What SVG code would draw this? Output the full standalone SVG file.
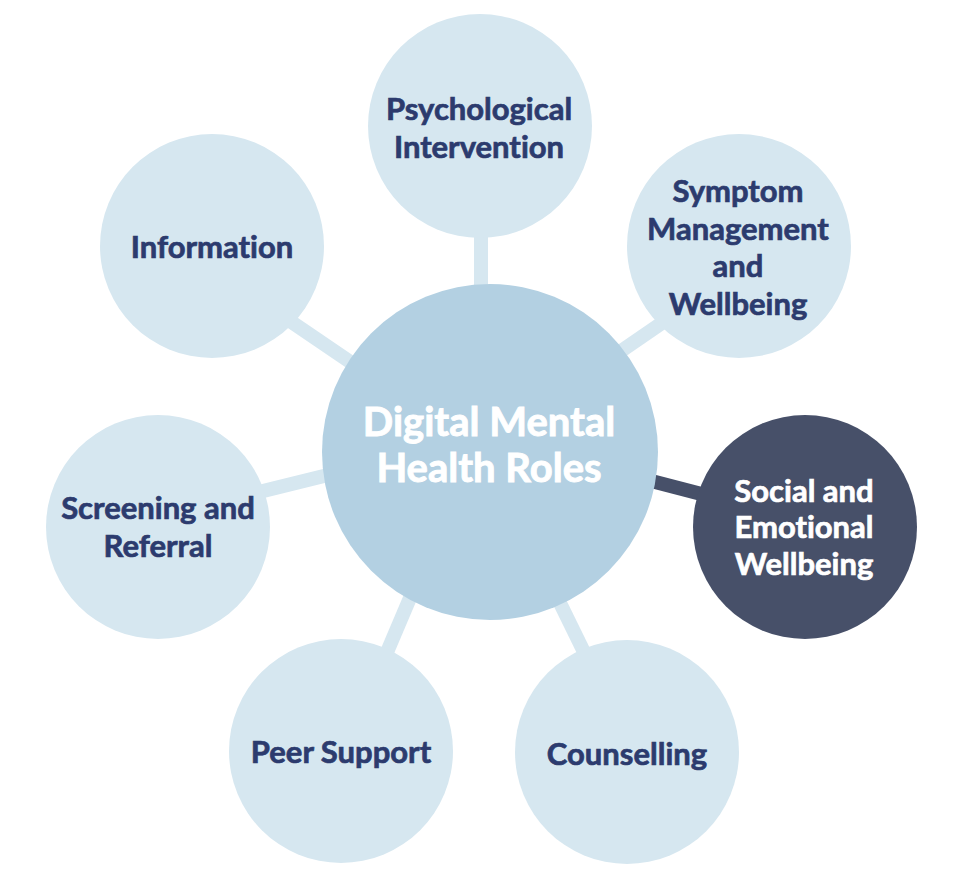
<svg xmlns="http://www.w3.org/2000/svg" width="960" height="876" viewBox="0 0 960 876">
<style>
.bg{fill:#ffffff}
.link{stroke:#d6e7f0;stroke-width:14;stroke-linecap:butt;fill:none}
.link-dark{stroke:#475069;stroke-width:14;fill:none}
.node{fill:#d6e7f0}
.hub{fill:#b3d0e2}
.dark{fill:#475069}
.lbl{font-family:Lato,"Open Sans","Liberation Sans",sans-serif;font-weight:700;font-size:31px;fill:#2c3b6e;stroke:#2c3b6e;stroke-width:0.7px;text-anchor:middle;font-variant-ligatures:none}
.lbl-w{fill:#ffffff;stroke:#ffffff}
.hub-lbl{font-family:Lato,"Open Sans","Liberation Sans",sans-serif;font-weight:700;font-size:40px;fill:#ffffff;stroke:#ffffff;stroke-width:0.9px;text-anchor:middle;font-variant-ligatures:none}
</style>
<rect class="bg" x="0" y="0" width="960" height="876"/>
<g id="connectors">
<line class="link" x1="481" y1="126" x2="481" y2="452"/>
<line class="link" x1="212" y1="268" x2="490" y2="457"/>
<line class="link" x1="739" y1="270" x2="490" y2="441"/>
<line class="link" x1="158" y1="517" x2="490" y2="435"/>
<line class="link" x1="345" y1="751" x2="472" y2="452"/>
<line class="link" x1="633" y1="752" x2="486" y2="452"/>
<line class="link-dark" x1="490" y1="439" x2="805" y2="521"/>
</g>
<g id="hub">
<circle class="hub" cx="490" cy="452" r="168"/>
<text class="hub-lbl" x="489" y="436">Digital Mental</text>
<text class="hub-lbl" x="489" y="482">Health Roles</text>
</g>
<g id="node-psychological">
<circle class="node" cx="480" cy="126" r="112"/>
<text class="lbl" x="479" y="120">Psychological</text>
<text class="lbl" x="479" y="158">Intervention</text>
</g>
<g id="node-information">
<circle class="node" cx="212" cy="246" r="112"/>
<text class="lbl" x="212" y="258">Information</text>
</g>
<g id="node-symptom">
<circle class="node" cx="739" cy="246" r="112"/>
<text class="lbl" x="738" y="202">Symptom</text>
<text class="lbl" x="738" y="240">Management</text>
<text class="lbl" x="738" y="277">and</text>
<text class="lbl" x="738" y="315">Wellbeing</text>
</g>
<g id="node-social">
<circle class="dark" cx="805" cy="527" r="112"/>
<text class="lbl lbl-w" x="804" y="502">Social and</text>
<text class="lbl lbl-w" x="804" y="538">Emotional</text>
<text class="lbl lbl-w" x="804" y="575">Wellbeing</text>
</g>
<g id="node-screening">
<circle class="node" cx="158" cy="527" r="112"/>
<text class="lbl" x="158" y="519">Screening and</text>
<text class="lbl" x="158" y="557">Referral</text>
</g>
<g id="node-peer">
<circle class="node" cx="341" cy="751" r="112"/>
<text class="lbl" x="341" y="763">Peer Support</text>
</g>
<g id="node-counselling">
<circle class="node" cx="627" cy="752" r="112"/>
<text class="lbl" x="627" y="765">Counselling</text>
</g>
</svg>
